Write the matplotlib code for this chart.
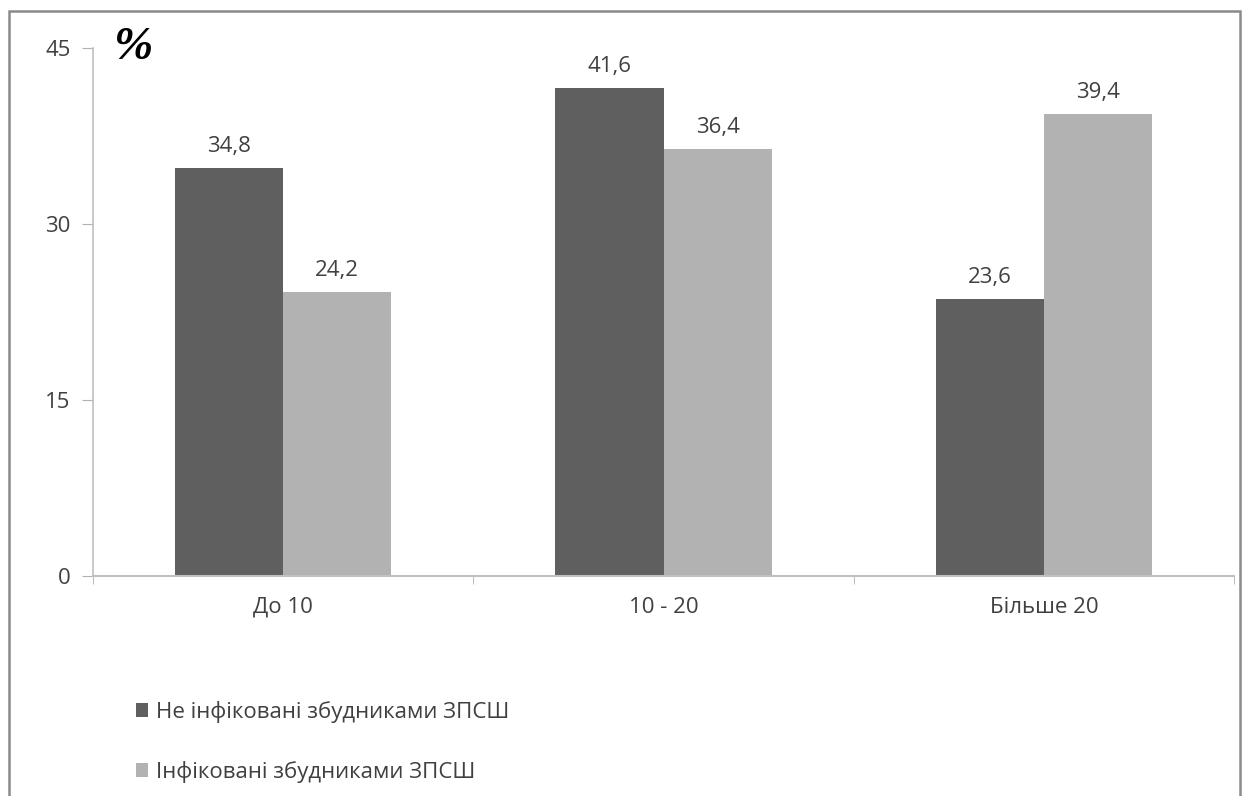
import matplotlib
matplotlib.use("Agg")
import matplotlib.pyplot as plt
import numpy as np
from matplotlib.patches import Rectangle

categories = ["До 10", "10 - 20", "Більше 20"]
not_infected = [34.8, 41.6, 23.6]
infected = [24.2, 36.4, 39.4]
series_names = ["Не інфіковані збудниками ЗПСШ", "Інфіковані збудниками ЗПСШ"]
y_ticks = [0, 15, 30, 45]

dark = "#5f5f5f"
light = "#b2b2b2"
txt = "#404040"
fs = 16

plt.rcParams["font.family"] = ["Open Sans", "DejaVu Sans"]

fig = plt.figure(figsize=(12.45, 7.96), dpi=100)
ax = fig.add_axes([93 / 1245, 1 - 576 / 796, (1234 - 93) / 1245, (576 - 48) / 796])

x = np.arange(len(categories))
w = 0.284
b1 = ax.bar(x - w / 2, not_infected, w, color=dark, label=series_names[0])
b2 = ax.bar(x + w / 2, infected, w, color=light, label=series_names[1])

for bars, vals in [(b1, not_infected), (b2, infected)]:
    for r, v in zip(bars, vals):
        ax.annotate(f"{v:.1f}".replace(".", ","), (r.get_x() + r.get_width() / 2, v),
                    xytext=(0, 8), textcoords="offset points", ha="center", va="bottom",
                    fontsize=fs, color=txt)

ax.set_xlim(-0.5, len(categories) - 0.5)
ax.set_ylim(0, 45)
ax.set_yticks(y_ticks)
ax.set_yticklabels([str(t) for t in y_ticks], fontsize=fs, color=txt)
ax.set_xticks(x)
ax.set_xticklabels(categories, fontsize=fs, color=txt)
ax.tick_params(axis="x", length=0, pad=15)
ax.tick_params(axis="y", length=8, color="#b0b0b0", pad=8)
# category boundary ticks on the x axis
ax.set_xticks(np.arange(-0.5, len(categories)), minor=True)
ax.tick_params(axis="x", which="minor", length=6, color="#b0b0b0")

for s in ["top", "right"]:
    ax.spines[s].set_visible(False)
ax.spines["left"].set_color("#c0c0c0")
ax.spines["bottom"].set_color("#c0c0c0")
ax.spines["left"].set_linewidth(1.2)
ax.spines["bottom"].set_linewidth(1.5)

fig.text(114 / 1245, 1 - 48 / 796, "%", fontsize=34, fontweight="bold", fontstyle="italic",
         family="Liberation Serif", ha="left", va="center", color="black")

leg = fig.legend(handles=[b1, b2], loc="upper left", bbox_to_anchor=(127 / 1245, 1 - 692 / 796),
                 frameon=False, fontsize=fs, handlelength=0.55, handleheight=0.55,
                 handletextpad=0.35, labelspacing=1.7, borderaxespad=0)
for t in leg.get_texts():
    t.set_color(txt)

# outer frame
fig.add_artist(Rectangle((9 / 1245, -0.05), (1240 - 9) / 1245, 1.05 - 11 / 796,
                         transform=fig.transFigure, fill=False, edgecolor="#8a8a8a", linewidth=1.8))

fig.savefig("out.png", dpi=100)
